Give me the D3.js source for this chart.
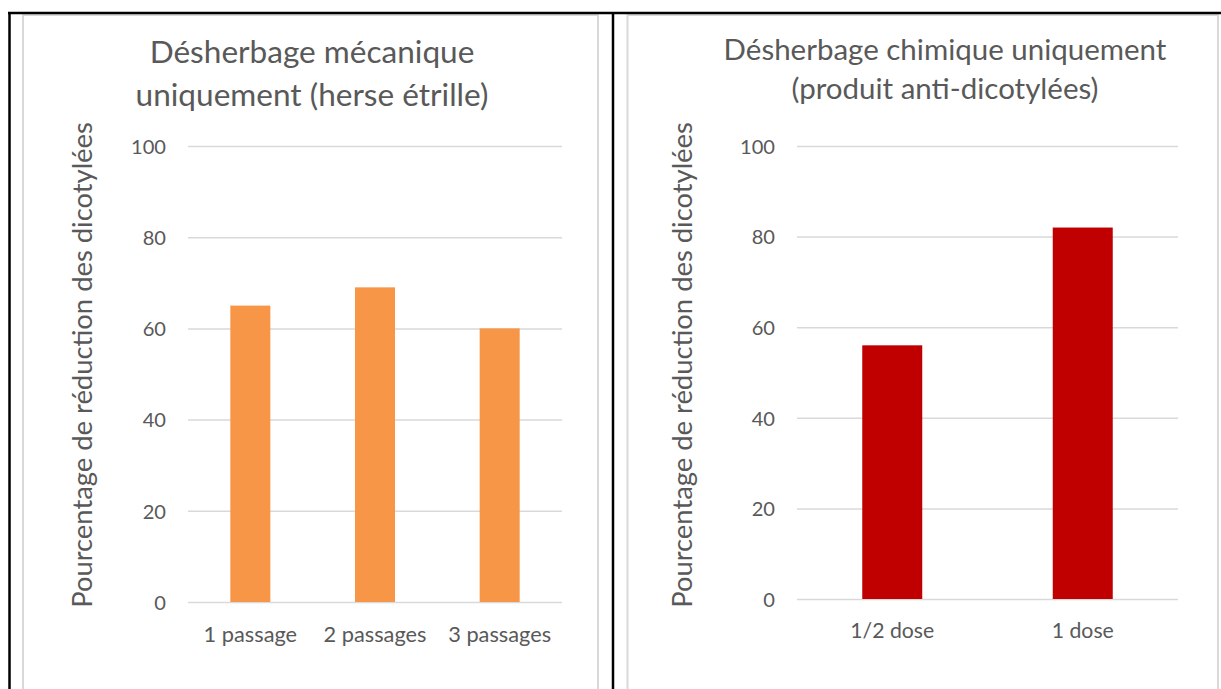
<!DOCTYPE html>
<html>
<head>
<meta charset="utf-8">
<script src="https://cdn.jsdelivr.net/npm/d3@7"></script>
<style>
  html, body { margin: 0; padding: 0; background: #ffffff; }
  svg { display: block; }
  text { font-family: Lato, "Noto Sans", sans-serif; fill: #595959; }
</style>
</head>
<body>
<svg id="chart" width="1221" height="689"></svg>
<script>
// ---- DATA ----
const leftTitle = ["Désherbage mécanique", "uniquement (herse étrille)"];
const leftCategories = ["1 passage", "2 passages", "3 passages"];
const leftValues = [65, 69, 60];

const rightTitle = ["Désherbage chimique uniquement", "(produit anti-dicotylées)"];
const rightCategories = ["1/2 dose", "1 dose"];
const rightValues = [56, 82];

const yTicks = [0, 20, 40, 60, 80, 100];
const yAxisTitle = "Pourcentage de réduction des dicotylées";

// ---- DRAWING ----
const svg = d3.select("#chart");
const W = 1221, H = 689;
svg.append("rect").attr("x", 0).attr("y", 0).attr("width", W).attr("height", H).attr("fill", "#fff");

// chart area borders (light gray)
svg.append("rect").attr("x", 23).attr("y", 15).attr("width", 575).attr("height", 700)
  .attr("fill", "none").attr("stroke", "#d9d9d9").attr("stroke-width", 2);
svg.append("rect").attr("x", 627.5).attr("y", 15).attr("width", 590.5).attr("height", 700)
  .attr("fill", "none").attr("stroke", "#d9d9d9").attr("stroke-width", 2);

// table borders (black)
svg.append("line").attr("x1", 8).attr("x2", W + 2).attr("y1", 13).attr("y2", 13)
  .attr("stroke", "#000").attr("stroke-width", 2.5);
svg.append("line").attr("x1", 9.5).attr("x2", 9.5).attr("y1", 12).attr("y2", H + 2)
  .attr("stroke", "#000").attr("stroke-width", 2.5);
svg.append("line").attr("x1", 613).attr("x2", 613).attr("y1", 12).attr("y2", H + 2)
  .attr("stroke", "#000").attr("stroke-width", 2.5);

function fitGroup(sel, refNode, target) {
  const w = refNode.getComputedTextLength();
  const fs = parseFloat(d3.select(refNode).attr("font-size"));
  const nfs = fs * target / w;
  sel.attr("font-size", nfs);
  return nfs;
}

function drawChart(cfg) {
  const g = svg.append("g");
  const x = d3.scaleBand().domain(cfg.categories).range([cfg.x0, cfg.x1])
    .paddingInner(cfg.pad).paddingOuter(cfg.pad / 2);
  const y = d3.scaleLinear().domain([0, 100]).range([cfg.y0, cfg.y100]);

  // y axis with gridlines
  const ya = g.append("g").attr("transform", `translate(${cfg.x0},0)`)
    .call(d3.axisLeft(y).tickValues(yTicks).tickSize(-(cfg.x1 - cfg.x0)).tickPadding(cfg.tickPad));
  ya.select(".domain").remove();
  ya.selectAll(".tick line").attr("stroke", "#d9d9d9").attr("stroke-width", 1.5);
  const yt = ya.selectAll(".tick text").attr("fill", "#595959").attr("font-size", 20)
    .attr("font-family", "Lato, sans-serif").attr("dy", "0.36em");
  const ref100 = yt.filter(d => d === 100).node();
  fitGroup(yt, ref100, 35);

  // bars
  g.selectAll("rect.bar").data(cfg.values).enter().append("rect")
    .attr("class", "bar")
    .attr("x", (d, i) => x(cfg.categories[i]))
    .attr("width", x.bandwidth())
    .attr("y", d => y(d))
    .attr("height", d => y(0) - y(d))
    .attr("fill", cfg.color);

  // x axis labels
  const xa = g.append("g").attr("transform", `translate(0,${cfg.y0})`)
    .call(d3.axisBottom(x).tickSize(0));
  xa.select(".domain").remove();
  const xt = xa.selectAll(".tick text").attr("fill", "#595959").attr("font-size", 20)
    .attr("font-family", "Lato, sans-serif").attr("dy", null).attr("y", cfg.xLabelDy);
  const refX = xt.filter(d => d === cfg.xRefLabel).node();
  fitGroup(xt, refX, cfg.xRefWidth);

  // title
  const tl = g.selectAll("text.title").data(cfg.title).enter().append("text")
    .attr("class", "title")
    .attr("x", cfg.titleX)
    .attr("y", (d, i) => cfg.titleY[i])
    .attr("text-anchor", "middle")
    .attr("font-size", 28)
    .text(d => d);
  fitGroup(tl, tl.nodes()[cfg.titleRefIdx], cfg.titleRefWidth);

  // y axis title
  const yTitle = g.append("text")
    .attr("transform", `translate(${cfg.yTitleX},${cfg.yTitleY}) rotate(-90)`)
    .attr("text-anchor", "middle")
    .attr("font-size", 26)
    .text(yAxisTitle);
  fitGroup(yTitle, yTitle.node(), 486);
}

drawChart({
  categories: leftCategories, values: leftValues, color: "#F79646",
  x0: 188, x1: 562, pad: 1 - 40 / (374 / 3),
  y0: 602, y100: 146, tickPad: 22,
  xLabelDy: 40, xRefLabel: "3 passages", xRefWidth: 103,
  title: leftTitle, titleX: 312, titleY: [63, 106], titleRefIdx: 1, titleRefWidth: 353,
  yTitleX: 92, yTitleY: 365
});

drawChart({
  categories: rightCategories, values: rightValues, color: "#C00000",
  x0: 797, x1: 1178, pad: 1 - 60 / (381 / 2),
  y0: 599, y100: 146, tickPad: 22,
  xLabelDy: 38.5, xRefLabel: "1/2 dose", xRefWidth: 84,
  title: rightTitle, titleX: 945, titleY: [60, 99], titleRefIdx: 0, titleRefWidth: 443,
  yTitleX: 692, yTitleY: 365
});
</script>
</body>
</html>
